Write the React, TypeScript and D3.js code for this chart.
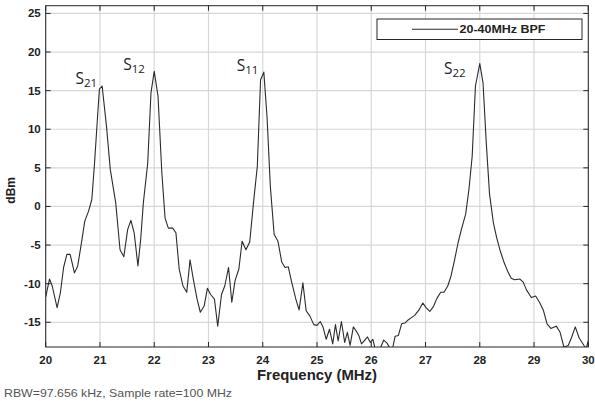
import React from "react";
import * as d3 from "d3";

// Spectrum trace: frequency (MHz) and power (dBm)
const freqMHz = [
  20.00, 20.07, 20.12, 20.21, 20.27, 20.33, 20.39, 20.45, 20.53, 20.59,
  20.65, 20.72, 20.79, 20.85, 20.90, 20.96, 20.99, 21.04, 21.12, 21.19,
  21.29, 21.37, 21.44, 21.51, 21.57, 21.63, 21.70, 21.75, 21.80, 21.88,
  21.94, 22.00, 22.07, 22.14, 22.20, 22.26, 22.34, 22.40, 22.46, 22.53,
  22.60, 22.66, 22.72, 22.79, 22.85, 22.92, 22.98, 23.04, 23.11, 23.17,
  23.24, 23.30, 23.37, 23.43, 23.49, 23.56, 23.62, 23.69, 23.76, 23.83,
  23.90, 23.96, 24.02, 24.08, 24.14, 24.21, 24.28, 24.35, 24.41, 24.47,
  24.53, 24.61, 24.67, 24.74, 24.80, 24.87, 24.94, 25.00, 25.06, 25.11,
  25.17, 25.23, 25.29, 25.34, 25.39, 25.45, 25.51, 25.56, 25.61, 25.67,
  25.72, 25.77, 25.82, 25.87, 25.93, 25.98, 26.03, 26.07, 26.12, 26.17,
  26.23, 26.29, 26.34, 26.39, 26.44, 26.50, 26.56, 26.62, 26.68, 26.74,
  26.80, 26.88, 26.95, 27.01, 27.08, 27.15, 27.21, 27.28, 27.34, 27.41,
  27.47, 27.53, 27.60, 27.66, 27.74, 27.80, 27.86, 27.92, 28.00, 28.06,
  28.12, 28.18, 28.25, 28.31, 28.37, 28.45, 28.52, 28.58, 28.64, 28.74,
  28.80, 28.86, 28.95, 29.03, 29.10, 29.17, 29.24, 29.31, 29.41, 29.48,
  29.55, 29.63, 29.69, 29.76, 29.83, 29.92, 29.96, 30.00,
];

const powerDbm = [
  -11.7, -9.4, -10.3, -13.1, -11.2, -7.9, -6.2, -6.2, -8.6, -7.7,
  -5.1, -1.9, -0.6, 0.9, 5.6, 12.1, 15.2, 15.6, 10.4, 4.8,
  0.5, -5.6, -6.5, -3.0, -1.8, -3.4, -7.7, -4.3, 0.5, 5.6,
  14.7, 17.5, 14.3, 4.4, -1.5, -2.8, -2.8, -3.4, -8.1, -10.3,
  -11.1, -6.9, -9.4, -12.0, -13.7, -12.9, -10.6, -11.4, -12.0, -15.5,
  -11.4, -10.3, -7.9, -12.4, -9.6, -8.1, -4.5, -5.6, -4.6, 0.5,
  5.2, 16.4, 17.4, 11.5, 2.6, -3.6, -4.5, -7.2, -7.9, -7.8,
  -9.7, -12.0, -13.4, -9.9, -13.5, -14.2, -15.3, -15.4, -14.9, -15.6,
  -17.2, -15.9, -17.8, -15.3, -17.4, -14.9, -17.6, -16.3, -18.0, -15.6,
  -16.1, -16.7, -17.8, -17.4, -16.9, -17.6, -17.2, -18.4, -18.6, -18.3,
  -17.3, -17.7, -18.3, -18.5, -16.8, -16.7, -15.2, -15.1, -14.7, -14.4,
  -14.1, -13.4, -12.5, -13.1, -13.6, -12.9, -11.9, -11.1, -11.1, -10.3,
  -9.0, -7.1, -4.7, -3.0, -1.0, 2.2, 6.5, 15.6, 18.5, 16.0,
  8.2, 1.6, -2.1, -4.0, -5.6, -7.3, -8.5, -9.3, -9.5, -9.4,
  -9.8, -10.8, -11.8, -11.6, -12.4, -13.4, -15.2, -15.8, -15.5, -16.3,
  -18.2, -18.0, -17.0, -15.6, -17.0, -18.0, -18.4, -17.4,
];

const xTicks = [20, 21, 22, 23, 24, 25, 26, 27, 28, 29, 30];
const yTicks = [-15, -10, -5, 0, 5, 10, 15, 20, 25];

// Peak annotations: main letter, subscript, anchor frequency and level
const peakLabels = [
  { name: "S", sub: "21", f: 20.55, v: 15.8 },
  { name: "S", sub: "12", f: 21.43, v: 17.7 },
  { name: "S", sub: "11", f: 23.52, v: 17.5 },
  { name: "S", sub: "22", f: 27.34, v: 17.2 },
];

const legendLabel = "20-40MHz BPF";
const xLabel = "Frequency (MHz)";
const yLabel = "dBm";
const footnote = "RBW=97.656 kHz, Sample rate=100 MHz";

const W = 595;
const H = 401;
const plot = { left: 45.7, right: 588.3, top: 5.7, bottom: 347 };

export default function App() {
  const x = d3.scaleLinear().domain([20, 30]).range([plot.left, plot.right]);
  const y = d3.scaleLinear().domain([-18.2, 26]).range([plot.bottom, plot.top]);

  const pts: [number, number][] = freqMHz.map((f, i) => [f, powerDbm[i]]);
  const line = d3
    .line<[number, number]>()
    .x((d) => x(d[0]))
    .y((d) => y(d[1]));

  const axisColor = "#262626";
  const gridColor = "#d8d8d8";
  const tickLen = 5;
  const font = "'Liberation Sans', Arial, sans-serif";

  return (
    <svg
      width={W}
      height={H}
      style={{ position: "absolute", left: 0, top: 0, background: "#fff" }}
    >
      <defs>
        <clipPath id="plotArea">
          <rect
            x={plot.left}
            y={plot.top}
            width={plot.right - plot.left}
            height={plot.bottom - plot.top}
          />
        </clipPath>
      </defs>

      {/* grid */}
      {xTicks.map((t) => (
        <line
          key={"gx" + t}
          x1={x(t)}
          x2={x(t)}
          y1={plot.top}
          y2={plot.bottom}
          stroke={gridColor}
          strokeWidth={1.2}
        />
      ))}
      {yTicks.map((t) => (
        <line
          key={"gy" + t}
          x1={plot.left}
          x2={plot.right}
          y1={y(t)}
          y2={y(t)}
          stroke={gridColor}
          strokeWidth={1.2}
        />
      ))}

      {/* trace */}
      <path
        d={line(pts) ?? ""}
        fill="none"
        stroke="#2b2b2b"
        strokeWidth={1.1}
        strokeLinejoin="round"
        clipPath="url(#plotArea)"
      />

      {/* axes box and inward ticks */}
      <rect
        x={plot.left}
        y={plot.top}
        width={plot.right - plot.left}
        height={plot.bottom - plot.top}
        fill="none"
        stroke={axisColor}
        strokeWidth={1}
      />
      {xTicks.map((t) => (
        <g key={"tx" + t}>
          <line x1={x(t)} x2={x(t)} y1={plot.bottom} y2={plot.bottom - tickLen} stroke={axisColor} />
          <line x1={x(t)} x2={x(t)} y1={plot.top} y2={plot.top + tickLen} stroke={axisColor} />
          <text
            x={x(t)}
            y={plot.bottom + 17}
            textAnchor="middle"
            fontFamily={font}
            fontWeight="bold"
            fontSize={11.5}
            fill="#222"
          >
            {t}
          </text>
        </g>
      ))}
      {yTicks.map((t) => (
        <g key={"ty" + t}>
          <line x1={plot.left} x2={plot.left + tickLen} y1={y(t)} y2={y(t)} stroke={axisColor} />
          <line x1={plot.right} x2={plot.right - tickLen} y1={y(t)} y2={y(t)} stroke={axisColor} />
          <text
            x={plot.left - 5}
            y={y(t) + 4}
            textAnchor="end"
            fontFamily={font}
            fontWeight="bold"
            fontSize={11.5}
            fill="#222"
          >
            {t}
          </text>
        </g>
      ))}

      {/* axis labels */}
      <text
        x={(plot.left + plot.right) / 2}
        y={plot.bottom + 33}
        textAnchor="middle"
        fontFamily={font}
        fontWeight="bold"
        fontSize={14}
        textLength={120}
        lengthAdjust="spacingAndGlyphs"
        fill="#222"
      >
        {xLabel}
      </text>
      <text
        transform={`translate(15, ${(plot.top + plot.bottom) / 2 + 14}) rotate(-90)`}
        textAnchor="middle"
        fontFamily={font}
        fontWeight="bold"
        fontSize={12}
        fill="#222"
      >
        {yLabel}
      </text>

      {/* peak annotations */}
      {peakLabels.map((p, i) => (
        <text
          key={"pl" + i}
          x={x(p.f)}
          y={y(p.v)}
          fontFamily="'Open Sans', 'Noto Sans', sans-serif"
          fontSize={15.5}
          fill="#222"
        >
          {p.name}
          <tspan fontSize={11.5} dy={3}>
            {p.sub}
          </tspan>
        </text>
      ))}

      {/* legend */}
      <g>
        <rect x={377} y={19} width={205} height={20.5} fill="#fff" stroke={axisColor} strokeWidth={1} />
        <line x1={412} x2={458} y1={29.3} y2={29.3} stroke="#2b2b2b" strokeWidth={1.1} />
        <text
          x={459.5}
          y={33}
          fontFamily={font}
          fontWeight="bold"
          fontSize={10.5}
          textLength={86}
          lengthAdjust="spacingAndGlyphs"
          fill="#222"
        >
          {legendLabel}
        </text>
      </g>

      {/* footnote */}
      <text
        x={4}
        y={397}
        fontFamily={font}
        fontSize={11.5}
        textLength={228}
        lengthAdjust="spacingAndGlyphs"
        fill="#555"
      >
        {footnote}
      </text>
    </svg>
  );
}
